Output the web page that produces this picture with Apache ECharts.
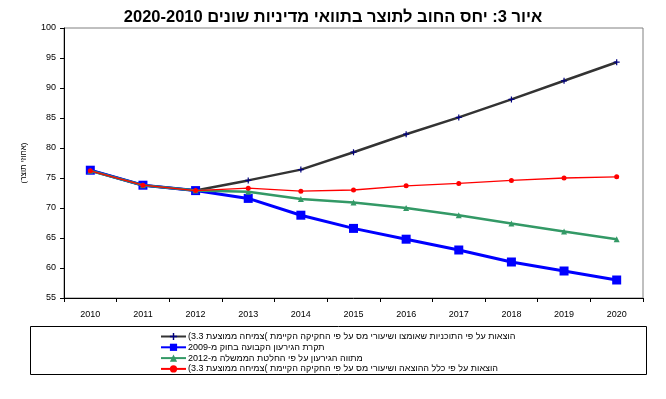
<!DOCTYPE html>
<html>
<head>
<meta charset="utf-8">
<script src="https://cdn.jsdelivr.net/npm/echarts@6/dist/echarts.min.js"></script>
<style>
html,body{margin:0;padding:0;background:#fff;}
#c{width:666px;height:399px;}
</style>
</head>
<body>
<div id="c" dir="rtl"></div>
<script>
const titleText = 'איור 3: יחס החוב לתוצר בתוואי מדיניות שונים 2020-2010';
const yAxisName = '(אחוזי תוצר)';
const years = ['2010','2011','2012','2013','2014','2015','2016','2017','2018','2019','2020'];
const seriesNames = [
  'הוצאות על פי התוכניות שאומצו ושיעורי מס על פי החקיקה הקיימת )צמיחה ממוצעת 3.3)',
  'תקרת הגירעון הקבועה בחוק מ-2009',
  'מתווה הגירעון על פי החלטת הממשלה מ-2012',
  'הוצאות על פי כלל ההוצאה ושיעורי מס על פי החקיקה הקיימת )צמיחה ממוצעת 3.3)'
];
const plansSeries = [76.3, 73.8, 72.9, 74.6, 76.4, 79.3, 82.3, 85.1, 88.1, 91.2, 94.3];
const deficitCapSeries = [76.3, 73.8, 72.9, 71.6, 68.8, 66.6, 64.8, 63.0, 61.0, 59.5, 58.0];
const govPathSeries = [76.2, 73.8, 72.9, 72.7, 71.5, 70.9, 70.0, 68.8, 67.4, 66.1, 64.8];
const expenditureRuleSeries = [76.2, 73.8, 72.9, 73.3, 72.8, 73.0, 73.7, 74.1, 74.6, 75.0, 75.2];

const FONT = 'Liberation Sans, Arial, sans-serif';
const plusPath = 'path://M4,0H6V4H10V6H6V10H4V6H0V4H4Z';

const chart = echarts.init(document.getElementById('c'));
chart.setOption({
  animation: false,
  backgroundColor: '#fff',
  title: {
    text: titleText,
    left: 'center',
    top: 4,
    textStyle: {fontFamily: FONT, fontSize: 16.5, fontWeight: 'bold', color: '#000'}
  },
  grid: {
    left: 64, right: 23, top: 28, bottom: 101,
    show: true, borderColor: '#808080', borderWidth: 1, backgroundColor: '#fff'
  },
  legend: {
    orient: 'vertical',
    left: 155, top: 327,
    itemWidth: 25, itemHeight: 9, itemGap: 1.8,
    textStyle: {fontFamily: FONT, fontSize: 9, color: '#000', padding: [0,0,0,-3]},
    data: seriesNames
  },
  graphic: [{
    type: 'rect',
    shape: {x: 30.5, y: 326.5, width: 616, height: 48},
    style: {fill: 'none', stroke: '#000', lineWidth: 1},
    z: -1
  }],
  xAxis: {
    type: 'category',
    data: years,
    boundaryGap: true,
    axisLine: {lineStyle: {color: '#000', width: 1}},
    axisTick: {show: true, length: 4, lineStyle: {color: '#000'}},
    axisLabel: {fontFamily: FONT, fontSize: 9, color: '#000', margin: 12}
  },
  yAxis: {
    type: 'value',
    min: 55, max: 100, interval: 5,
    name: yAxisName,
    nameLocation: 'middle',
    nameRotate: 90,
    nameGap: 36,
    nameTextStyle: {fontFamily: FONT, fontSize: 8, color: '#000', padding: [0,0,0,0]},
    axisLine: {show: true, lineStyle: {color: '#000', width: 1}},
    axisTick: {show: true, length: 4, lineStyle: {color: '#000'}},
    axisLabel: {fontFamily: FONT, fontSize: 9, color: '#000', margin: 8},
    splitLine: {show: false}
  },
  series: [
    {
      name: seriesNames[0], type: 'line', data: plansSeries,
      symbol: plusPath, symbolSize: 6,
      lineStyle: {color: '#333333', width: 2.5},
      itemStyle: {color: '#000080'},
      z: 2
    },
    {
      name: seriesNames[1], type: 'line', data: deficitCapSeries,
      symbol: 'rect', symbolSize: 9,
      lineStyle: {color: '#0000FF', width: 3},
      itemStyle: {color: '#0000FF'},
      z: 3
    },
    {
      name: seriesNames[2], type: 'line', data: govPathSeries,
      symbol: 'triangle', symbolSize: 6,
      lineStyle: {color: '#339966', width: 2.5},
      itemStyle: {color: '#339966'},
      z: 4
    },
    {
      name: seriesNames[3], type: 'line', data: expenditureRuleSeries,
      symbol: 'circle', symbolSize: 5,
      lineStyle: {color: '#FF0000', width: 1.3},
      itemStyle: {color: '#FF0000'},
      z: 5
    }
  ]
});
</script>
</body>
</html>
